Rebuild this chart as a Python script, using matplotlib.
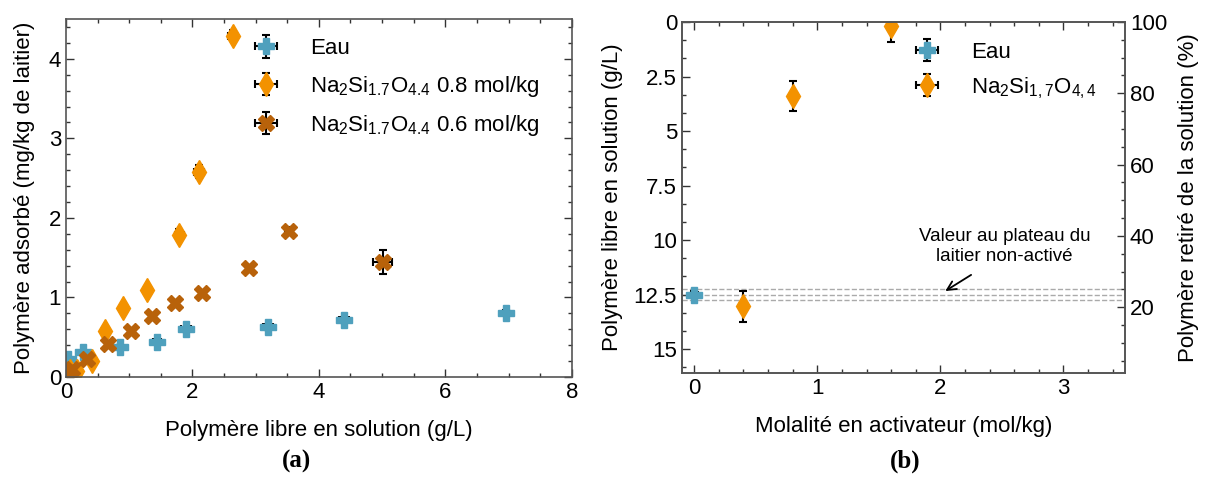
import matplotlib
matplotlib.use("Agg")
import matplotlib.pyplot as plt
from matplotlib.ticker import MultipleLocator, FuncFormatter

plt.rcParams['font.family'] = ['Liberation Sans', 'DejaVu Sans']
plt.rcParams['font.size'] = 16
plt.rcParams['mathtext.fontset'] = 'custom'
plt.rcParams['mathtext.rm'] = 'Liberation Sans'
plt.rcParams['mathtext.it'] = 'Liberation Sans:italic'
plt.rcParams['mathtext.bf'] = 'Liberation Sans:bold'

BLUE = '#4fa0bd'
ORANGE = '#f39200'
BROWN = '#b8620a'

# (a) adsorption isotherms
eau_x = [0.03, 0.27, 0.85, 1.44, 1.90, 3.19, 4.40, 6.96]
eau_y = [0.23, 0.31, 0.38, 0.44, 0.60, 0.63, 0.72, 0.81]
eau_xerr = [0.02, 0.02, 0.03, 0.06, 0.08, 0.08, 0.08, 0.05]
eau_yerr = [0.02, 0.02, 0.02, 0.03, 0.03, 0.04, 0.04, 0.03]

na08_x = [0.06, 0.18, 0.41, 0.61, 0.90, 1.28, 1.79, 2.10, 2.64]
na08_y = [0.08, 0.075, 0.20, 0.58, 0.87, 1.10, 1.79, 2.58, 4.29]
na08_xerr = [0.02, 0.02, 0.02, 0.03, 0.03, 0.03, 0.07, 0.08, 0.07]
na08_yerr = [0.02, 0.02, 0.02, 0.03, 0.03, 0.03, 0.07, 0.08, 0.07]

na06_x = [0.03, 0.09, 0.33, 0.67, 1.02, 1.36, 1.73, 2.15, 2.90, 3.52, 5.01]
na06_y = [0.05, 0.10, 0.22, 0.41, 0.58, 0.77, 0.93, 1.05, 1.37, 1.83, 1.45]
na06_xerr = [0.02, 0.02, 0.02, 0.03, 0.03, 0.03, 0.03, 0.03, 0.04, 0.06, 0.15]
na06_yerr = [0.02, 0.02, 0.02, 0.03, 0.03, 0.03, 0.03, 0.03, 0.04, 0.05, 0.15]

# (b) free polymer vs activator molality
b_eau_x = [0.0]
b_eau_y = [12.5]
b_eau_err = [0.15]
b_na_x = [0.4, 0.8, 1.6]
b_na_y = [13.05, 3.4, 0.2]
b_na_err = [0.7, 0.7, 0.7]
plateau = [12.27, 12.5, 12.73]
C0 = 16.35


def style(ax):
    ax.tick_params(which='both', direction='in', top=True, right=True,
                   colors='#333333', labelcolor='black', labelsize=16)
    ax.tick_params(which='major', length=6, width=1)
    ax.tick_params(which='minor', length=3, width=1)
    for s in ax.spines.values():
        s.set_color('#555555')
        s.set_linewidth(1.2)


def eb(ax, x, y, xe, ye, m, c, ms, label):
    ax.errorbar(x, y, xerr=xe, yerr=ye, fmt=m, color=c, ms=ms, mec=c,
                ecolor='black', elinewidth=1.5, capsize=3, capthick=1.5,
                label=label)


fig = plt.figure(figsize=(12.07, 4.95), dpi=100)
ax1 = fig.add_axes([0.0547, 0.2384, 0.419, 0.723])
ax2 = fig.add_axes([0.565, 0.2465, 0.367, 0.709])

eb(ax1, eau_x, eau_y, eau_xerr, eau_yerr, 'P', BLUE, 12, 'Eau')
eb(ax1, na08_x, na08_y, na08_xerr, na08_yerr, 'd', ORANGE, 12,
   r'Na$_2$Si$_{1.7}$O$_{4.4}$ 0.8 mol/kg')
eb(ax1, na06_x, na06_y, na06_xerr, na06_yerr, 'X', BROWN, 11,
   r'Na$_2$Si$_{1.7}$O$_{4.4}$ 0.6 mol/kg')
ax1.set_xlim(0, 8)
ax1.set_ylim(0, 4.5)
ax1.xaxis.set_major_locator(MultipleLocator(2))
ax1.xaxis.set_minor_locator(MultipleLocator(0.5))
ax1.yaxis.set_major_locator(MultipleLocator(1))
ax1.yaxis.set_minor_locator(MultipleLocator(0.2))
style(ax1)
ax1.set_xlabel('Polymère libre en solution (g/L)', labelpad=12)
ax1.set_ylabel('Polymère adsorbé (mg/kg de laitier)', labelpad=10)
ax1.legend(loc='upper left', bbox_to_anchor=(0.32, 0.99), frameon=False,
           handletextpad=1.0, borderaxespad=0.3, labelspacing=0.65,
           fontsize=16)

for yv in plateau:
    ax2.axhline(yv, color='#aaaaaa', ls='--', lw=1, zorder=1)
eb(ax2, b_eau_x, b_eau_y, [0.03], b_eau_err, 'P', BLUE, 12, 'Eau')
eb(ax2, b_na_x, b_na_y, [0.0, 0.0, 0.0], b_na_err, 'd', ORANGE, 12,
   r'Na$_2$Si$_{1,7}$O$_{4,4}$')
ax2.set_xlim(-0.1, 3.5)
ax2.set_ylim(16.1, 0)
ax2.xaxis.set_major_locator(MultipleLocator(1))
ax2.xaxis.set_minor_locator(MultipleLocator(0.2))
ax2.yaxis.set_major_locator(MultipleLocator(2.5))
ax2.yaxis.set_minor_locator(MultipleLocator(2.5 / 3))
ax2.yaxis.set_major_formatter(FuncFormatter(lambda v, p: '%g' % v))
style(ax2)
ax2.tick_params(which='both', right=False)
ax2.set_xlabel('Molalité en activateur (mol/kg)', labelpad=12)
ax2.set_ylabel('Polymère libre en solution (g/L)', labelpad=8)
ax2.legend(loc='upper left', bbox_to_anchor=(0.457, 1.0), frameon=False,
           handletextpad=1.0, labelspacing=0.55, fontsize=16)
ax2.text(2.52, 10.3, 'Valeur au plateau du\nlaitier non-activé',
         ha='center', va='center', fontsize=13.5)
ax2.annotate('', xy=(2.04, 12.34), xytext=(2.25, 11.6),
             arrowprops=dict(arrowstyle='->', color='black', lw=1.3,
                             shrinkA=0, shrinkB=0))

ax3 = ax2.twinx()
ax3.set_ylim(100 * (1 - 16.1 / C0), 100)
ax3.yaxis.set_major_locator(MultipleLocator(20))
ax3.yaxis.set_minor_locator(MultipleLocator(5))
ax3.tick_params(which='both', direction='in', colors='#333333',
                labelcolor='black', labelsize=16)
ax3.tick_params(which='major', length=6, width=1)
ax3.tick_params(which='minor', length=3, width=1)
ax3.set_ylabel('Polymère retiré de la solution (%)', labelpad=8)
for s in ax3.spines.values():
    s.set_color('#555555')
    s.set_linewidth(1.2)

fig.text(0.246, 0.068, '(a)', ha='center', va='center', fontsize=18,
         fontweight='bold', family='Liberation Serif')
fig.text(0.75, 0.068, '(b)', ha='center', va='center', fontsize=18,
         fontweight='bold', family='Liberation Serif')

fig.savefig('out.png', dpi=100)
